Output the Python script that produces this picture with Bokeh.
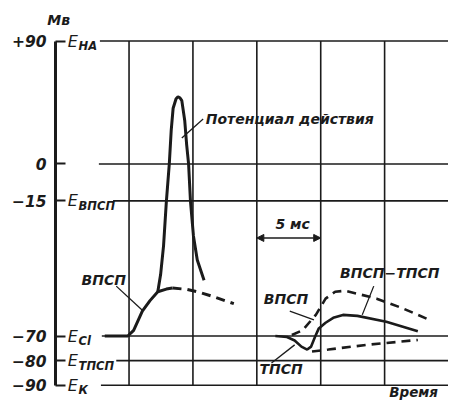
from bokeh.plotting import figure
from bokeh.models import FixedTicker, Arrow, NormalHead, Range1d, LinearAxis
from bokeh.core.properties import value
from bokeh.embed import file_html
from bokeh.resources import INLINE

# ---------------- data (time in ms, potential in mV) ----------------
level_mv = [90, 0, -15, -70, -80, -90]
level_tick_labels = ["+90", "0", "−15", "−70", "−80", "−90"]
e_levels = [90, -15, -70, -80, -90]
e_subscripts = ["НА", "ВПСП", "Cl", "ТПСП", "К"]
grid_ms = [5, 10, 15, 20, 25]

# EPSP rising to threshold (left)
epsp_t = [3.1, 4.9, 5.36, 6.04, 6.64, 7.25, 7.92, 8.4]
epsp_mv = [-70, -70, -67.7, -59.9, -55.6, -52.0, -50.9, -50.5]
# EPSP continuation without spike (dashed)
epsp_dash_t = [8.4, 9.5, 10.5, 11.5, 12.5, 13.2]
epsp_dash_mv = [-50.5, -51.0, -52.2, -53.8, -55.6, -56.8]
# action potential
ap_t = [7.25, 7.47, 7.7, 7.92, 8.15, 8.3, 8.45, 8.68, 8.83, 8.98, 9.13,
        9.36, 9.51, 9.66, 9.81, 10.04, 10.34, 10.87]
ap_mv = [-52.0, -45.0, -33.3, -15.3, 0, 24.6, 40.8, 47.8, 49.2, 48.5, 46.4,
         31.6, 14.0, 0, -15.3, -29.3, -39.1, -47.3]
# IPSP followed by summed EPSP-IPSP (solid, right)
sum_t = [16.45, 17.36, 17.96, 18.49, 18.94, 19.25, 19.55, 19.85, 20.38,
         20.98, 21.74, 22.87, 25.13, 27.6]
sum_mv = [-70, -70.4, -71.8, -74.3, -75.5, -74.3, -70.4, -66.9, -64.6,
          -62.6, -61.4, -61.8, -64.2, -68.1]
# EPSP alone (dashed, right)
epsp2_t = [17.74, 18.57, 19.62, 20.38, 21.13, 21.89, 22.87, 24.38, 26.4, 28.68]
epsp2_mv = [-69.6, -67.7, -61.4, -54.8, -52.0, -51.6, -52.8, -54.8, -58.7, -63.8]
# IPSP alone (dashed, right)
ipsp_t = [19.32, 20.6, 23.6, 27.6]
ipsp_mv = [-76.3, -75.5, -73.6, -71.6]


def fy(v):
    # the positive part of the scale is compressed in the original drawing
    return v if v <= 0 else v * 50 / 90


def fys(vs):
    return [fy(v) for v in vs]


# ---------------- layout ----------------
INK = "#1b1b1b"
FONT = value("DejaVu Sans")
X0, X1 = -0.755, 30.0
Y0, Y1 = -96.64, 54.3

p = figure(width=448, height=401, output_backend="svg", toolbar_location=None,
           x_range=Range1d(X0, X1), y_range=Range1d(Y0, Y1),
           min_border_left=55, min_border_right=0, min_border_top=30,
           min_border_bottom=0)
p.outline_line_color = None
p.grid.visible = False
p.xaxis.visible = False

ya = p.yaxis[0]
ya.ticker = FixedTicker(ticks=fys(level_mv))
ya.major_label_overrides = {int(round(fy(v))): lab for v, lab in zip(level_mv, level_tick_labels)}
ya.bounds = (-90, fy(90))
ya.major_tick_in = 10
ya.major_tick_out = 0
ya.minor_tick_in = 0
ya.minor_tick_out = 0
ya.axis_line_width = 3
ya.axis_line_color = INK
ya.major_tick_line_width = 2
ya.major_tick_line_color = INK
ya.major_label_standoff = 9
ya.major_label_text_font = "DejaVu Sans"
ya.major_label_text_font_style = "bold italic"
ya.major_label_text_font_size = "15.5px"
ya.major_label_text_color = INK

# unit title "Мв" above the potential axis
unit_axis = LinearAxis(ticker=FixedTicker(ticks=[-0.5]), major_label_overrides={-0.5: "Мв"},
                       axis_line_color=None, major_tick_line_color=None,
                       minor_tick_line_color=None, major_tick_in=0, major_tick_out=0,
                       minor_tick_in=0, minor_tick_out=0, major_label_standoff=3,
                       major_label_text_font="DejaVu Sans",
                       major_label_text_font_style="bold italic",
                       major_label_text_font_size="14px", major_label_text_color=INK)
p.add_layout(unit_axis, "above")

# horizontal reference lines (start just after their labels)
line_start_ms = [2.72, 2.64, 3.75, 2.87, 4.0, 2.8]
p.segment(x0=line_start_ms, y0=fys(level_mv), x1=[X1] * len(level_mv), y1=fys(level_mv),
          line_color=INK, line_width=1.6)
# vertical time grid
p.segment(x0=grid_ms, y0=[-90] * len(grid_ms), x1=grid_ms, y1=[fy(90)] * len(grid_ms),
          line_color=INK, line_width=1.6)

# E labels
p.text(x=[0.2] * len(e_levels), y=fys(e_levels), text=["E"] * len(e_levels),
       text_font=FONT, text_font_style="italic", text_font_size="16px",
       text_baseline="middle", text_align="left", text_color=INK)
p.text(x=[1.05] * len(e_levels), y=fys(e_levels), text=e_subscripts, y_offset=5,
       text_font=FONT, text_font_style="bold italic", text_font_size="11.5px",
       text_baseline="middle", text_align="left", text_color=INK)

# curves
p.line(epsp_t, fys(epsp_mv), line_color=INK, line_width=3)
p.line(epsp_dash_t, fys(epsp_dash_mv), line_color=INK, line_width=3, line_dash="9 6")
p.line(ap_t, fys(ap_mv), line_color=INK, line_width=3)
p.line(sum_t, fys(sum_mv), line_color=INK, line_width=2.6)
p.line(epsp2_t, fys(epsp2_mv), line_color=INK, line_width=2.6, line_dash="9 6")
p.line(ipsp_t, fys(ipsp_mv), line_color=INK, line_width=2.6, line_dash="9 6")

# annotation texts
ann_text = ["Потенциал действия", "ВПСП", "ВПСП", "ТПСП", "ВПСП−ТПСП", "5 мс"]
ann_x = [11.0, 3.02, 17.28, 16.9, 25.4, 17.8]
ann_y = [fy(33), -47.3, -54.8, -83.3, -44.2, -24.3]
ann_align = ["left", "center", "center", "center", "center", "center"]
p.text(x=ann_x, y=ann_y, text=ann_text, text_align=ann_align, text_baseline="middle",
       text_font=FONT, text_font_style="bold italic", text_font_size="14px", text_color=INK)

# pointer lines
ptr_x0 = [10.8, 4.0, 17.58, 16.15, 24.15]
ptr_y0 = [fy(33), -49.7, -59.9, -81.0, -49.7]
ptr_x1 = [9.13, 6.04, 19.47, 17.96, 23.25]
ptr_y1 = [fy(19), -59.5, -63.4, -73.6, -61.4]
p.segment(x0=ptr_x0, y0=ptr_y0, x1=ptr_x1, y1=ptr_y1, line_color=INK, line_width=1.3)

# 5 ms arrow
p.add_layout(Arrow(start=NormalHead(size=7, fill_color=INK, line_color=INK),
                   end=NormalHead(size=7, fill_color=INK, line_color=INK),
                   x_start=15, y_start=-30.1, x_end=20, y_end=-30.1,
                   line_color=INK, line_width=1.5))

# time axis title
p.text(x=[25.36], y=[-96.1], text=["Время"], text_align="left", text_baseline="bottom",
       text_font=FONT, text_font_style="bold italic", text_font_size="13.5px", text_color=INK)

open("out.html", "w").write(file_html(p, INLINE))
